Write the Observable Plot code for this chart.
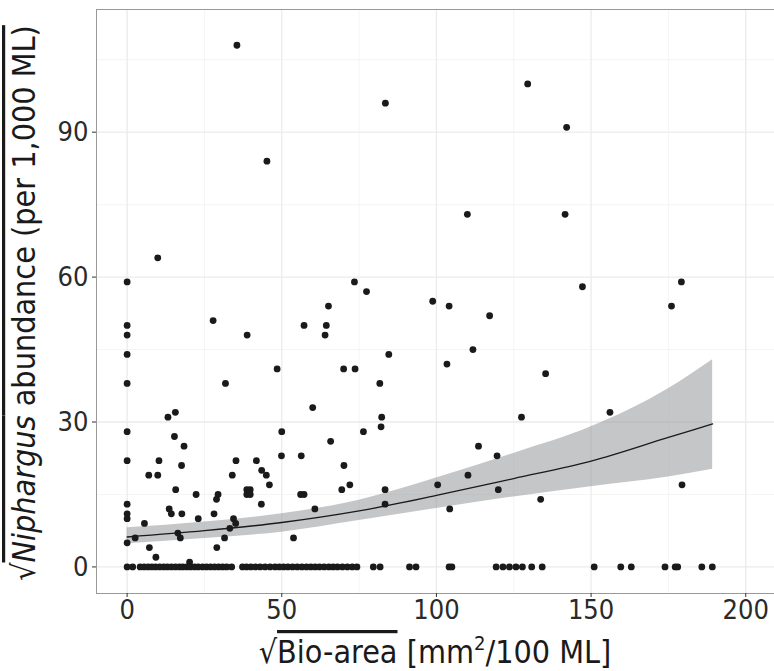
<!DOCTYPE html>
<html>
<head>
<meta charset="utf-8">
<script src="https://cdn.jsdelivr.net/npm/d3@7"></script>
<script src="https://cdn.jsdelivr.net/npm/@observablehq/plot@0.6"></script>
<style>
  html, body { margin: 0; padding: 0; background: #fff; }
  #chart svg { display: block; }
</style>
</head>
<body>
<div id="chart"></div>
<script>
// Non-zero observations: sqrt bio-area (x) and sqrt Niphargus abundance (y)
const ptX = [0, 0, 0, 0, 0, 0, 0, 0, 0, 0, 0,
  2.6, 5.6, 7.0, 7.2, 9.3, 9.9, 9.9, 10.3, 13.2, 13.6, 14.3, 15.3, 15.6, 15.7, 16.4, 17.2, 17.6, 17.7, 18.4, 20.2,
  22.3, 23.0, 27.8, 28.1, 28.9, 29.0, 29.4, 31.5, 31.8, 33.2, 34.0, 34.4, 35.2, 35.1, 35.5,
  38.8, 38.7, 39.8, 38.7, 39.8, 41.8, 43.5, 43.4, 45.0, 45.2, 46.0, 48.5, 50.0, 49.9,
  53.8, 56.3, 56.1, 57.2, 57.2, 60.0, 60.7, 64.0, 64.4, 65.1, 65.8, 69.4, 70.0, 70.1, 72.0,
  73.5, 73.7, 76.4, 77.4, 81.7, 82.1, 82.3, 83.4, 83.4, 83.5, 84.6,
  98.8, 100.4, 103.4, 104.1, 104.3, 110.0, 110.2, 111.8, 113.6, 117.2, 119.6, 120.0,
  127.5, 129.5, 133.7, 135.3, 141.6, 142.1, 147.2, 156.1, 176.0, 179.2, 179.4];
const ptY = [59, 50, 48, 44, 38, 28, 22, 13, 11, 10, 5,
  6, 9, 19, 4, 2, 19, 64, 22, 31, 12, 11, 27, 32, 16, 7, 6, 21, 11, 25, 1,
  15, 10, 51, 11, 14, 4, 15, 6, 38, 8, 19, 10, 22, 9, 108,
  48, 16, 16, 15, 15, 22, 20, 13, 19, 84, 17, 41, 28, 23,
  6, 23, 15, 15, 50, 33, 12, 48, 50, 54, 26, 16, 41, 21, 17,
  59, 41, 28, 57, 38, 29, 31, 16, 13, 96, 44,
  55, 17, 42, 54, 12, 73, 19, 45, 25, 52, 23, 16,
  31, 100, 14, 40, 73, 91, 58, 32, 54, 59, 17];
// Observations with zero abundance: sqrt bio-area
const zeroX = [0, 1.8, 4.2, 5.5, 6.8, 8.0, 9.2, 10.5, 11.8, 13.0, 14.3, 15.6, 16.9, 18.0, 19.3, 20.5,
  21.8, 23.0, 24.4, 25.7, 27.0, 28.3, 29.6, 30.9, 32.2, 33.8,
  37.3, 38.6, 40.0, 41.5, 43.0, 44.6, 46.2,
  47.8, 49.2, 50.6, 52.0, 53.5, 55.0, 56.5, 58.0, 59.4, 60.8, 62.2, 63.7, 65.2, 66.6, 68.0,
  69.6, 71.2, 72.8, 74.3,
  79.6, 81.8, 91.3, 93.4, 104.1, 105.0, 119.3, 121.5, 123.6, 125.7, 127.8, 130.8, 134.2,
  151.0, 159.6, 163.0, 173.9, 177.2, 178.0, 185.8, 189.2];
// Fitted curve with confidence band
const fitX  = [0, 25, 50, 75, 100, 125, 150, 175, 189.3];
const fitY  = [6.2, 7.5, 9.2, 11.6, 14.8, 18.3, 21.9, 26.8, 29.6];
const fitLo = [4.8, 5.9, 7.2, 9.6, 12.1, 14.5, 16.6, 18.6, 20.2];
const fitHi = [8.1, 9.3, 11.0, 13.8, 18.4, 23.5, 29.0, 36.9, 42.9];
// Axis ticks
const xTicks = [0, 50, 100, 150, 200];
const xMinor = [25, 75, 125, 175];
const yTicks = [0, 30, 60, 90];
const yMinor = [15, 45, 75, 105];

const points = ptX.map((x, i) => ({x, y: ptY[i]})).concat(zeroX.map(x => ({x, y: 0})));
const fit = fitX.map((x, i) => ({x, y: fitY[i], lo: fitLo[i], hi: fitHi[i]}));

const FONT = '"Liberation Sans Narrow", "DejaVu Sans Condensed", "Arial Narrow", "Liberation Sans", sans-serif';

const chart = Plot.plot({
  width: 774,
  height: 671,
  marginLeft: 96,
  marginTop: 9,
  marginBottom: 78,
  marginRight: 0,
  style: {fontFamily: FONT, background: "#fff", overflow: "visible"},
  x: {domain: [-9.9, 209.3]},
  y: {domain: [-5.5, 115.4]},
  marks: [
    Plot.gridX(xMinor, {stroke: "#f2f2f2", strokeOpacity: 1, strokeWidth: 0.8}),
    Plot.gridY(yMinor, {stroke: "#f2f2f2", strokeOpacity: 1, strokeWidth: 0.8}),
    Plot.gridX(xTicks, {stroke: "#ebebeb", strokeOpacity: 1, strokeWidth: 1.3}),
    Plot.gridY(yTicks, {stroke: "#ebebeb", strokeOpacity: 1, strokeWidth: 1.3}),
    Plot.areaY(fit, {x: "x", y1: "lo", y2: "hi", fill: "#8a8d91", fillOpacity: 0.5, curve: "monotone-x"}),
    Plot.dot(points, {x: "x", y: "y", r: 3.4, fill: "#1a1a1a", stroke: "none"}),
    Plot.line(fit, {x: "x", y: "y", stroke: "#1a1a1a", strokeWidth: 1.3, curve: "monotone-x"}),
    Plot.frame({stroke: "#999", strokeWidth: 1}),
    Plot.axisX(xTicks, {tickSize: 4, tickPadding: 2, label: null, fontSize: 27, color: "#2a2a2a", stroke: "#333"}),
    Plot.axisY(yTicks, {tickSize: 4, tickPadding: 4, label: null, fontSize: 27, color: "#2a2a2a", stroke: "#333"})
  ]
});

document.getElementById("chart").appendChild(chart);

const svg = d3.select(chart);
// x-axis title
const xt = svg.append("text")
  .attr("x", 435).attr("y", 663)
  .attr("text-anchor", "middle")
  .attr("font-family", FONT).attr("font-size", 32).attr("fill", "#1a1a1a");
xt.append("tspan").text("\u221A");
xt.append("tspan").style("text-decoration", "overline").text("Bio-area");
xt.append("tspan").text(" [mm");
xt.append("tspan").attr("dy", -13).attr("font-size", 20).text("2");
xt.append("tspan").attr("dy", 13).text("/100 ML]");

// y-axis title
const yt = svg.append("text")
  .attr("transform", "translate(35,303) rotate(-90)")
  .attr("text-anchor", "middle")
  .attr("font-family", FONT).attr("font-size", 32).attr("fill", "#1a1a1a");
yt.append("tspan").text("\u221A");
const yo = yt.append("tspan").style("text-decoration", "overline");
yo.append("tspan").attr("font-style", "italic").text("Niphargus");
yo.append("tspan").text(" abundance (per 1,000 ML)");
</script>
</body>
</html>
